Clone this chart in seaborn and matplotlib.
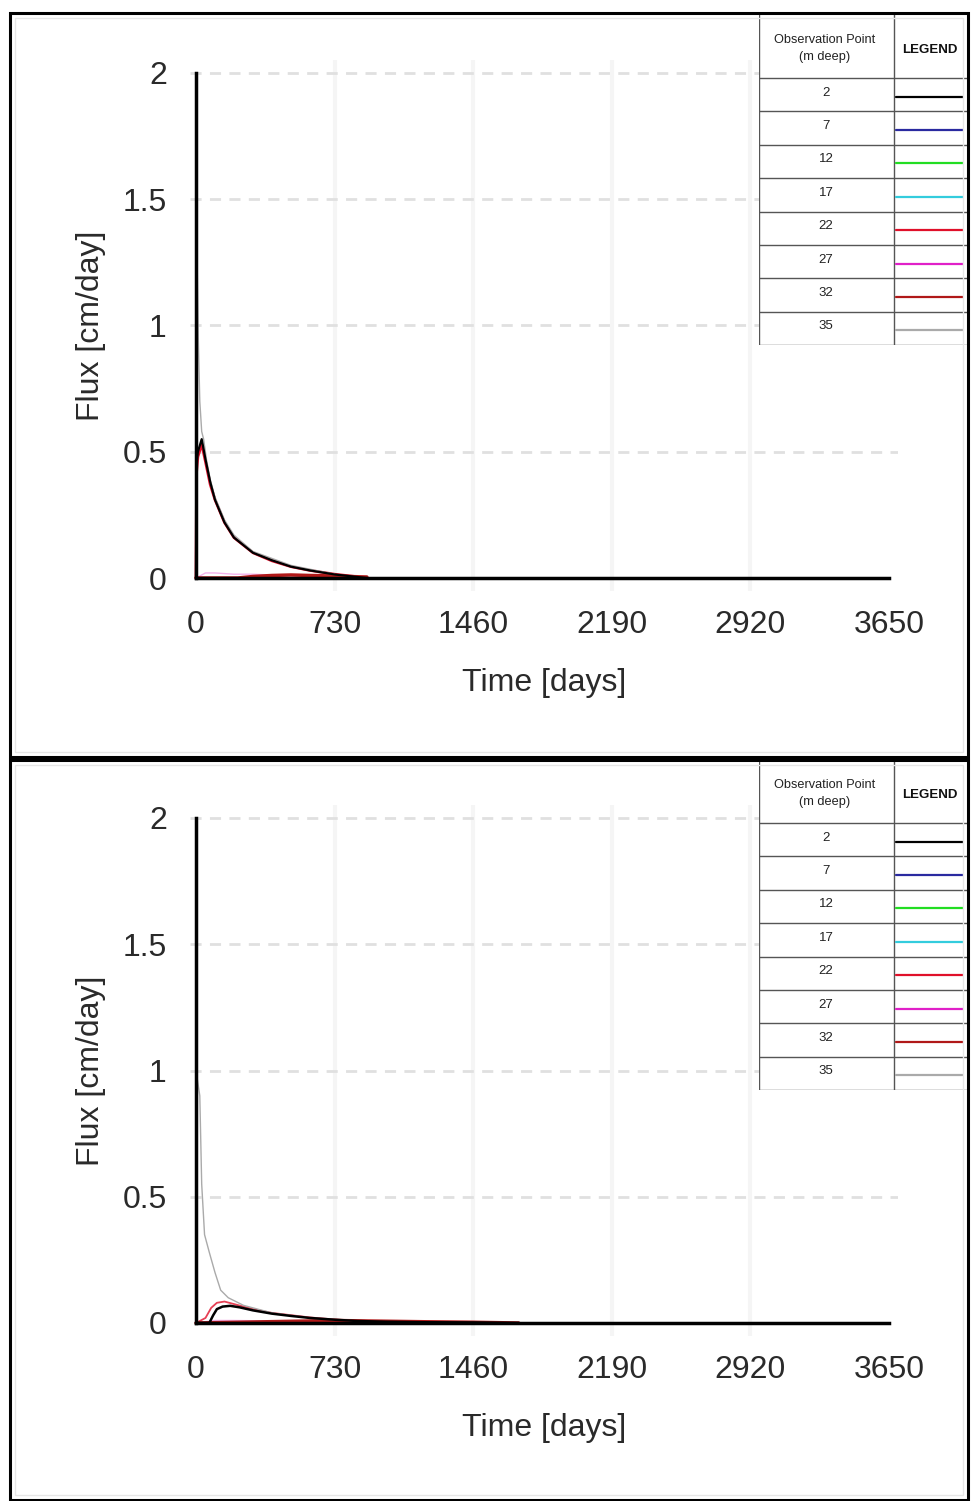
"""
Two-panel flux vs time chart with an observation-point legend table.
"""

import matplotlib
matplotlib.use("Agg")
import matplotlib.pyplot as plt
from matplotlib.patches import Rectangle
import seaborn as sns

sns.set_style("white")
plt.rcParams["font.family"] = ["Liberation Sans", "DejaVu Sans"]

# ──────────────────────────────────────────────────────────────────
# Data
# ──────────────────────────────────────────────────────────────────

DEPTHS = ["2", "7", "12", "17", "22", "27", "32", "35"]
COLORS = ["#000000", "#2a2aa0", "#22dd22", "#33ccdd",
          "#e0102a", "#e020c8", "#b01818", "#aaaaaa"]

X_TICKS = [0, 730, 1460, 2190, 2920, 3650]
Y_TICKS = [0, 0.5, 1, 1.5, 2]

# top panel
top_t_2 = [0, 2, 10, 30, 50, 75, 100, 150, 200, 300, 400, 500, 600, 730, 850, 900]
top_f_2 = [0, 0.45, 0.50, 0.55, 0.47, 0.38, 0.31, 0.22, 0.16, 0.10, 0.07, 0.045, 0.03, 0.014, 0.004, 0.0]
top_t_flat = [0, 900]
top_f_flat = [0, 0]
top_t_22 = [0, 3, 10, 30, 50, 75, 100, 150, 200, 300, 400, 500, 600, 730, 850]
top_f_22 = [0, 0.42, 0.48, 0.53, 0.46, 0.37, 0.31, 0.22, 0.16, 0.10, 0.068, 0.045, 0.03, 0.015, 0.005]
top_t_27 = [0, 50, 100, 200, 300, 400, 500, 600, 730]
top_f_27 = [0.0, 0.02, 0.02, 0.015, 0.015, 0.012, 0.01, 0.008, 0.005]
top_t_32 = [0, 220, 300, 400, 500, 600, 730, 800, 900]
top_f_32 = [0, 0, 0.006, 0.01, 0.012, 0.01, 0.008, 0.006, 0.004]
top_t_35 = [0, 3, 6, 12, 20, 30, 40, 55, 75, 100, 150, 200, 300, 500, 730]
top_f_35 = [0, 1.3, 1.25, 0.95, 0.7, 0.58, 0.55, 0.47, 0.39, 0.32, 0.23, 0.17, 0.105, 0.05, 0.015]

# bottom panel
bot_t_2 = [0, 70, 90, 110, 140, 180, 230, 300, 400, 500, 600, 730, 850, 1000, 1200, 1460, 1700]
bot_f_2 = [0, 0, 0.03, 0.055, 0.065, 0.068, 0.062, 0.05, 0.037, 0.028, 0.02, 0.013, 0.008, 0.005, 0.003, 0.002, 0.0]
bot_t_flat = [0, 1200]
bot_f_flat = [0, 0]
bot_t_22 = [0, 50, 80, 110, 150, 200, 300, 400, 600, 730, 900]
bot_f_22 = [0, 0.02, 0.06, 0.08, 0.085, 0.075, 0.055, 0.04, 0.022, 0.014, 0.006]
bot_t_27 = [0, 100, 200, 400, 730, 900]
bot_f_27 = [0, 0.01, 0.01, 0.008, 0.005, 0.002]
bot_t_32 = [0, 600, 730, 900, 1200, 1460, 1700]
bot_f_32 = [0, 0.008, 0.01, 0.008, 0.005, 0.003, 0]
bot_t_35 = [0, 4, 20, 30, 45, 70, 100, 130, 170, 250, 400, 600, 730, 900]
bot_f_35 = [0, 0.98, 0.9, 0.55, 0.35, 0.28, 0.2, 0.13, 0.1, 0.07, 0.04, 0.02, 0.013, 0.006]

# (depth, time, flux, linewidth, alpha) in drawing order
TOP_SERIES = [
    ("7", top_t_flat, top_f_flat, 1.5, 1), ("12", top_t_flat, top_f_flat, 1.5, 1),
    ("17", top_t_flat, top_f_flat, 1.5, 1), ("27", top_t_27, top_f_27, 1.0, 0.35),
    ("22", top_t_22, top_f_22, 2.0, 1), ("32", top_t_32, top_f_32, 2.5, 1),
    ("35", top_t_35, top_f_35, 1.0, 1), ("2", top_t_2, top_f_2, 1.6, 1),
]
BOT_SERIES = [
    ("7", bot_t_flat, bot_f_flat, 1.5, 1), ("12", bot_t_flat, bot_f_flat, 1.5, 1),
    ("17", bot_t_flat, bot_f_flat, 1.5, 1), ("27", bot_t_27, bot_f_27, 1.0, 0.35),
    ("22", bot_t_22, bot_f_22, 1.3, 0.8), ("32", bot_t_32, bot_f_32, 2.5, 1),
    ("35", bot_t_35, bot_f_35, 1.0, 1), ("2", bot_t_2, bot_f_2, 1.8, 1),
]

W, H = 972, 1501


def fx(px):
    return px / W


def fy(py):
    return (H - py) / H


def draw_panel(fig, y0_px, series):
    """Axes where x=0 sits at px 196, x=3650 at px 889, y=0 at y0_px, y=2 at y0_px-505."""
    ppd = (889 - 196) / 3650
    ppu = 505 / 2
    left = 196 - 30 * ppd
    right = 889 + 50 * ppd
    bottom = y0_px + 0.05 * ppu
    top = y0_px - 505 - 0.05 * ppu
    ax = fig.add_axes([fx(left), fy(bottom), (right - left) / W, (bottom - top) / H])
    ax.set_xlim(-30, 3700)
    ax.set_ylim(-0.05, 2.05)

    # grid
    for t in X_TICKS[1:-1]:
        ax.axvline(t, color="#f5f5f5", lw=3, zorder=0)
    for v in Y_TICKS[1:]:
        ax.axhline(v, color="#e0e0e0", lw=2, ls=(0, (4, 3)), zorder=0)

    color_of = dict(zip(DEPTHS, COLORS))
    for depth, t, f, lw, a in series:
        sns.lineplot(x=t, y=f, color=color_of[depth], lw=lw, alpha=a, ax=ax, zorder=3)

    for s in ["top", "right"]:
        ax.spines[s].set_visible(False)
    ax.spines["left"].set_position(("data", 0))
    ax.spines["bottom"].set_position(("data", 0))
    ax.spines["left"].set_bounds(0, 2)
    ax.spines["bottom"].set_bounds(0, 3650)
    for s in ["left", "bottom"]:
        ax.spines[s].set_linewidth(2.5)
        ax.spines[s].set_color("black")
        ax.spines[s].set_zorder(4)

    ax.set_xticks(X_TICKS)
    ax.set_yticks(Y_TICKS)
    ax.set_yticklabels(["0", "0.5", "1", "1.5", "2"])
    ax.tick_params(direction="inout", length=18, width=2, color="black",
                   labelsize=23, labelcolor="#2a2a2a")
    ax.tick_params(axis="x", pad=14)
    ax.tick_params(axis="y", pad=12)
    ax.set_xlabel("Time [days]", fontsize=23, color="#2a2a2a", labelpad=20)
    ax.set_ylabel("Flux [cm/day]", fontsize=23, color="#2a2a2a", labelpad=12)
    ax.patch.set_alpha(0)
    return ax


def draw_legend_table(fig, top_px, bottom_px):
    tab = fig.add_axes([fx(759), fy(bottom_px), 209 / W, (bottom_px - top_px) / H])
    h = bottom_px - top_px
    tab.set_xlim(0, 209)
    tab.set_ylim(h, 0)
    tab.axis("off")
    tab.add_patch(Rectangle((0, 0), 209, h, facecolor="white", edgecolor="#555555", lw=1))
    head = 65
    row = (h - head) / len(DEPTHS)
    tab.plot([135, 135], [0, h], color="#555555", lw=1)
    tab.text(66, 27, "Observation Point", ha="center", va="center", fontsize=9.2, color="#222222")
    tab.text(66, 44, "(m deep)", ha="center", va="center", fontsize=9.2, color="#222222")
    tab.text(171, 37, "LEGEND", ha="center", va="center", fontsize=9.5,
             fontweight="bold", color="#111111")
    for i, (d, c) in enumerate(zip(DEPTHS, COLORS)):
        y = head + i * row
        tab.plot([0, 209], [y, y], color="#555555", lw=1)
        tab.text(67, y + row / 2 - 2, d, ha="center", va="center", fontsize=9.5, color="#222222")
        tab.plot([137, 204], [y + row / 2 + 2, y + row / 2 + 2], color=c, lw=1.6)


fig = plt.figure(figsize=(W / 100, H / 100), dpi=100)

# panel frames
for top_px, bot_px in [(13, 757), (760, 1500)]:
    fig.patches.append(Rectangle((fx(10), fy(bot_px)), (968 - 10) / W, (bot_px - top_px) / H,
                                 transform=fig.transFigure, fill=False,
                                 edgecolor="black", lw=2.2))
    fig.patches.append(Rectangle((fx(15), fy(bot_px - 5)), (963 - 15) / W, (bot_px - top_px - 10) / H,
                                 transform=fig.transFigure, fill=False,
                                 edgecolor="#e6e6e6", lw=1))

draw_panel(fig, 578, TOP_SERIES)
draw_panel(fig, 1323, BOT_SERIES)
draw_legend_table(fig, 13, 345)
draw_legend_table(fig, 758, 1090)

fig.savefig("out.png", dpi=100)
plt.close(fig)
